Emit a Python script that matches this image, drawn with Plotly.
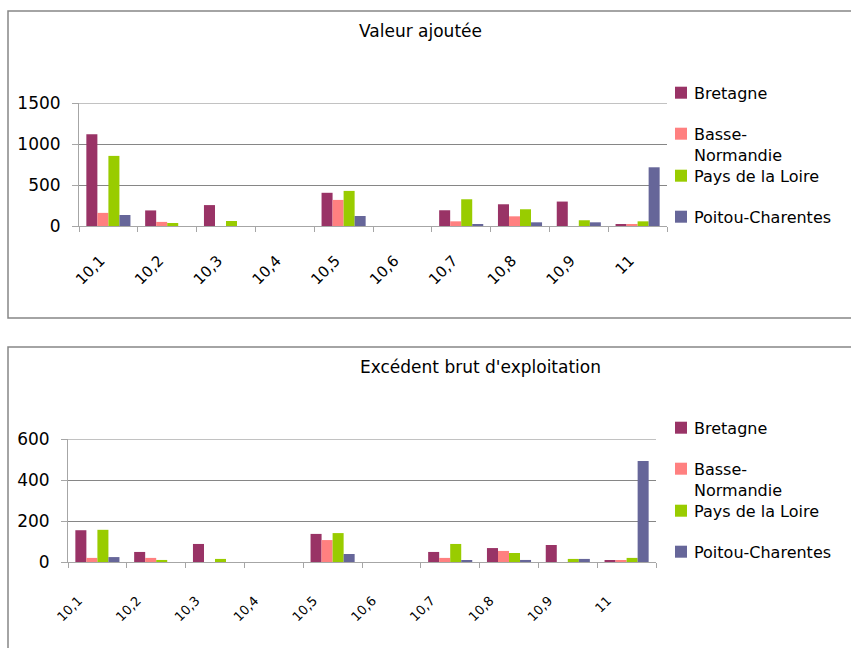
import plotly.graph_objects as go

# Categories (code NAF) shared by both charts
categories = ["10,1", "10,2", "10,3", "10,4", "10,5", "10,6", "10,7", "10,8", "10,9", "11"]
regions = ["Bretagne", "Basse-Normandie", "Pays de la Loire", "Poitou-Charentes"]
region_labels = ["Bretagne", "Basse-<br>Normandie", "Pays de la Loire", "Poitou-Charentes"]
colors = ["#993366", "#FF8080", "#99CC00", "#666699"]

# Valeur ajoutée
va_bretagne = [1120, 190, 255, 0, 405, 0, 192, 265, 298, 20]
va_basse_normandie = [160, 50, 0, 0, 318, 0, 57, 118, 0, 20]
va_pays_loire = [855, 37, 61, 0, 428, 0, 326, 204, 70, 57]
va_poitou = [134, 0, 0, 0, 122, 0, 20, 45, 45, 716]

# Excédent brut d'exploitation
ebe_bretagne = [155, 49, 88, 0, 137, 0, 49, 68, 83, 5]
ebe_basse_normandie = [20, 20, 0, 0, 107, 0, 20, 54, 0, 5]
ebe_pays_loire = [157, 10, 15, 0, 141, 0, 88, 44, 15, 20]
ebe_poitou = [24, 0, 0, 0, 39, 0, 5, 10, 15, 493]

va_series = [va_bretagne, va_basse_normandie, va_pays_loire, va_poitou]
ebe_series = [ebe_bretagne, ebe_basse_normandie, ebe_pays_loire, ebe_poitou]

va_max, ebe_max = 1500, 600

W, H = 851, 648


def px(x):
    return x / W


def py(y):
    return 1 - y / H


fig = go.Figure()

for name, col, vals in zip(regions, colors, va_series):
    fig.add_trace(go.Bar(x=categories, y=vals, name=name, marker_color=col,
                         marker_line_width=0, xaxis="x", yaxis="y", showlegend=False))
for name, col, vals in zip(regions, colors, ebe_series):
    fig.add_trace(go.Bar(x=categories, y=vals, name=name, marker_color=col,
                         marker_line_width=0, xaxis="x2", yaxis="y2", showlegend=False))

grid = "#868686"
axline = "#A6A6A6"
font_family = "DejaVu Sans"

common_x = dict(type="category", tickson="boundaries", ticks="outside", ticklen=5,
                tickcolor=axline, showline=True, linecolor=axline, linewidth=1,
                showgrid=False, tickangle=-45, fixedrange=True, automargin=False)
common_y = dict(ticks="outside", ticklen=6, tickcolor=axline, showline=True,
                linecolor=axline, linewidth=1, showgrid=True, gridcolor=grid,
                gridwidth=1, zeroline=False, fixedrange=True, ticklabelstandoff=8,
                automargin=False,
                tickfont=dict(family=font_family, size=17, color="black"))

fig.update_layout(
    width=W, height=H,
    margin=dict(l=0, r=0, t=0, b=0, pad=0, autoexpand=False),
    paper_bgcolor="white", plot_bgcolor="white",
    barmode="group", bargap=0.25, bargroupgap=0,
    font=dict(family=font_family, color="black"),
    xaxis=dict(domain=[px(79), px(667)], anchor="y",
               tickfont=dict(family=font_family, size=15, color="black"),
               ticklabelstandoff=19, ticklabelshift=-8, **common_x),
    yaxis=dict(domain=[py(226), py(103)], anchor="x", range=[0, va_max], dtick=500,
               **common_y),
    xaxis2=dict(domain=[px(68), px(656)], anchor="y2",
                tickfont=dict(family=font_family, size=13, color="black"),
                ticklabelstandoff=25, ticklabelshift=-19, **common_x),
    yaxis2=dict(domain=[py(562), py(439)], anchor="x2", range=[0, ebe_max], dtick=200,
                **common_y),
)

shapes = []
annotations = []

# Top gridlines (at the upper end of each value axis)
for xref, yref, ymax in (("x domain", "y", va_max), ("x2 domain", "y2", ebe_max)):
    shapes.append(dict(type="line", xref=xref, yref=yref, x0=0, x1=1, y0=ymax, y1=ymax,
                       line=dict(color=grid, width=1), layer="below"))

# Chart frames
shapes.append(dict(type="rect", xref="paper", yref="paper",
                   x0=px(8), x1=px(860), y0=py(318), y1=py(11),
                   line=dict(color="#868686", width=1.5), fillcolor="rgba(0,0,0,0)"))
shapes.append(dict(type="rect", xref="paper", yref="paper",
                   x0=px(8), x1=px(860), y0=py(660), y1=py(347),
                   line=dict(color="#868686", width=1.5), fillcolor="rgba(0,0,0,0)"))

# Titles
annotations.append(dict(text="Valeur ajoutée", x=px(420), y=py(31), xref="paper", yref="paper",
                        showarrow=False, xanchor="center", yanchor="middle",
                        font=dict(family=font_family, size=17, color="black")))
annotations.append(dict(text="Excédent brut d'exploitation", x=px(480), y=py(367),
                        xref="paper", yref="paper", showarrow=False,
                        xanchor="center", yanchor="middle",
                        font=dict(family=font_family, size=17, color="black")))


# Legends: coloured squares with region names
def add_legend(offset):
    square_centers = [92.7, 133.7, 175.7, 216.7]
    for lab, col, cy in zip(region_labels, colors, square_centers):
        cy = cy + offset
        shapes.append(dict(type="rect", xref="paper", yref="paper",
                           x0=px(675), x1=px(687), y0=py(cy + 6), y1=py(cy - 6),
                           line=dict(width=0), fillcolor=col))
        if "<br>" in lab:
            annotations.append(dict(text=lab, x=px(692), y=py(cy - 11), xref="paper",
                                    yref="paper", showarrow=False, xanchor="left",
                                    yanchor="top", align="left",
                                    font=dict(family=font_family, size=16, color="black")))
        else:
            annotations.append(dict(text=lab, x=px(692), y=py(cy + 1), xref="paper",
                                    yref="paper", showarrow=False, xanchor="left",
                                    yanchor="middle",
                                    font=dict(family=font_family, size=16, color="black")))


add_legend(0)
add_legend(335)

fig.update_layout(shapes=shapes, annotations=annotations)

fig.write_html("out.html")
